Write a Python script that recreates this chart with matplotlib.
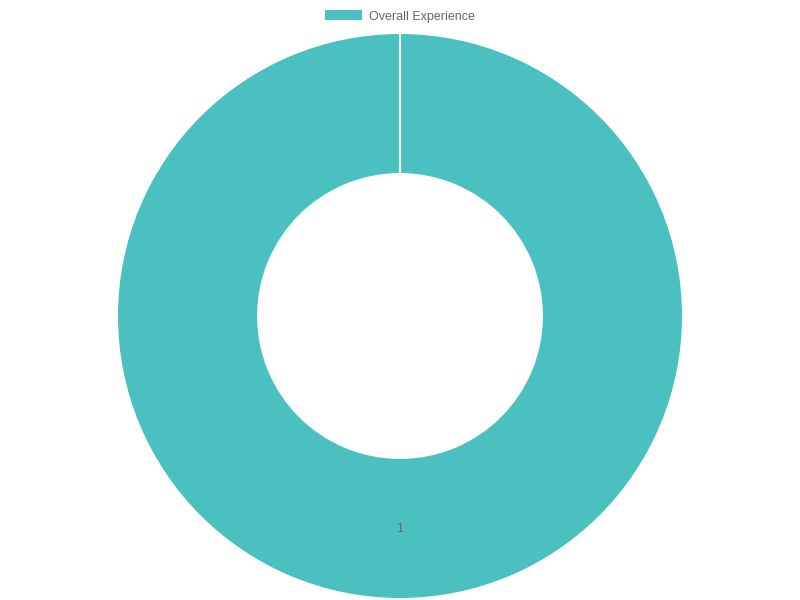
import matplotlib
matplotlib.use("Agg")
import matplotlib.pyplot as plt
from matplotlib.patches import Patch

labels = ["Overall Experience"]
values = [1]
colors = ["#4BC0C0"]

fig = plt.figure(figsize=(8, 6), dpi=100)
ax = fig.add_axes([118/800, 2/600, 564/800, 564/600])
ax.set_aspect("equal")

total = sum(values)
wedges, texts, autotexts = ax.pie(
    values, colors=colors, startangle=90, counterclock=False,
    radius=1.0,
    wedgeprops=dict(width=0.493, edgecolor="none", linewidth=0),
    autopct=lambda p: f"{p*total/100:.0f}", pctdistance=0.755,
    textprops=dict(color="#666666", fontsize=9, family="Liberation Sans"),
)
ax.set_xlim(-1, 1)
ax.set_ylim(-1, 1)
# white separator line at the start angle
ax.plot([0, 0], [1 - 0.493, 1], color="white", linewidth=1.5)

handles = [Patch(facecolor=c, edgecolor="none") for c in colors]
fig.legend(handles, labels, loc="center", bbox_to_anchor=(0.5, 1 - 16.5/600),
           frameon=False, handlelength=3.0, handleheight=0.8, handletextpad=0.55,
           prop=dict(family="Liberation Sans", size=9), labelcolor="#666666")

fig.savefig("out.png", dpi=100)
